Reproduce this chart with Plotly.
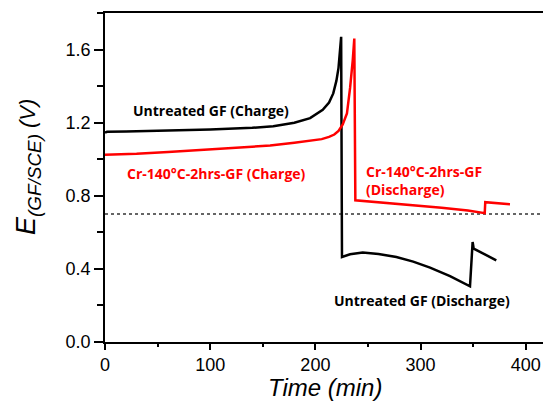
import plotly.graph_objects as go

# Untreated GF: charge then discharge (time in min, potential in V)
untreated_time = [0, 2, 20, 50, 100, 140, 160, 180, 195, 207, 213, 217, 220, 222, 223.5, 224.5,
                  225.3, 233, 245, 260, 277, 293, 309, 328, 347, 349.5, 350.5, 372]
untreated_E = [1.145, 1.15, 1.152, 1.155, 1.163, 1.172, 1.18, 1.20, 1.225, 1.27, 1.31, 1.36, 1.43, 1.50, 1.58, 1.67,
               0.465, 0.48, 0.49, 0.482, 0.465, 0.44, 0.407, 0.36, 0.305, 0.547, 0.511, 0.447]

# Cr-140°C-2hrs-GF: charge then discharge
cr_time = [0, 30, 60, 100, 130, 157, 180, 196, 206, 213, 218, 222, 226, 230, 233, 235.5, 237,
           238, 260, 290, 320, 345, 361, 361.5, 370, 385]
cr_E = [1.025, 1.03, 1.04, 1.055, 1.065, 1.075, 1.09, 1.10, 1.11, 1.122, 1.135, 1.155, 1.19, 1.25, 1.39, 1.54, 1.66,
        0.775, 0.765, 0.75, 0.735, 0.72, 0.705, 0.765, 0.76, 0.753]

threshold_E = 0.70
x_range = [0, 424]
y_range = [0, 1.8]

fig = go.Figure()
fig.add_trace(go.Scatter(x=x_range, y=[threshold_E, threshold_E], mode="lines",
                         line=dict(color="#333333", width=1.5, dash="dot"), hoverinfo="skip"))
fig.add_trace(go.Scatter(x=untreated_time, y=untreated_E, mode="lines",
                         line=dict(color="black", width=2.5)))
fig.add_trace(go.Scatter(x=cr_time, y=cr_E, mode="lines",
                         line=dict(color="#ff0000", width=2.5)))

ann_font = dict(family="Open Sans", size=14, color="black")
fig.add_annotation(x=101, y=1.267, text="<b>Untreated GF (Charge)</b>", showarrow=False,
                   font=ann_font)
fig.add_annotation(x=106, y=0.92, text="<b>Cr-140°C-2hrs-GF (Charge)</b>", showarrow=False,
                   font=dict(ann_font, color="#ff0000"))
fig.add_annotation(x=246, y=0.885, text="<b>Cr-140°C-2hrs-GF<br>(Discharge)</b>", showarrow=False,
                   xanchor="left", align="left", font=dict(ann_font, color="#ff0000"))
fig.add_annotation(x=301, y=0.228, text="<b>Untreated GF (Discharge)</b>", showarrow=False,
                   font=ann_font)

# axis titles placed as paper annotations (plot area 446 x 329 px)
fig.add_annotation(xref="paper", yref="paper", x=(325 - 105) / 446, y=-(387 - 342) / 329,
                   text="<i>Time (min)</i>", showarrow=False, yanchor="middle", borderpad=0,
                   font=dict(family="Liberation Sans", size=24, color="black"))
fig.add_annotation(xref="paper", yref="paper", x=-(105 - 28) / 446, y=(342 - 167) / 329,
                   text="<i>E<sub>(GF/SCE)</sub><span style='font-size:22px'> (V)</span></i>",
                   showarrow=False, textangle=-90, xanchor="center", yanchor="middle",
                   font=dict(family="Liberation Sans", size=27, color="black"))

tick_font = dict(family="Liberation Sans", size=18, color="black")
fig.update_layout(
    width=543, height=393,
    margin=dict(l=97, r=0, t=5, b=59),
    paper_bgcolor="white", plot_bgcolor="white",
    showlegend=False,
    xaxis=dict(range=x_range, dtick=100, tick0=0, showgrid=False, zeroline=False, automargin=False,
               showline=True, linecolor="black", linewidth=1.5, mirror=True,
               ticks="outside", ticklen=6, tickwidth=1.5, tickcolor="black",
               minor=dict(dtick=50, ticks="outside", ticklen=3, tickwidth=1.5, tickcolor="black"),
               tickfont=tick_font),
    yaxis=dict(range=y_range, dtick=0.4, tick0=0, tickformat=".1f", showgrid=False, zeroline=False,
               automargin=False,
               showline=True, linecolor="black", linewidth=1.5,
               ticks="outside", ticklen=9, tickwidth=1.5, tickcolor="black",
               minor=dict(dtick=0.2, ticks="outside", ticklen=6, tickwidth=1.5, tickcolor="black"),
               tickfont=tick_font),
)

fig.write_html("out.html")
